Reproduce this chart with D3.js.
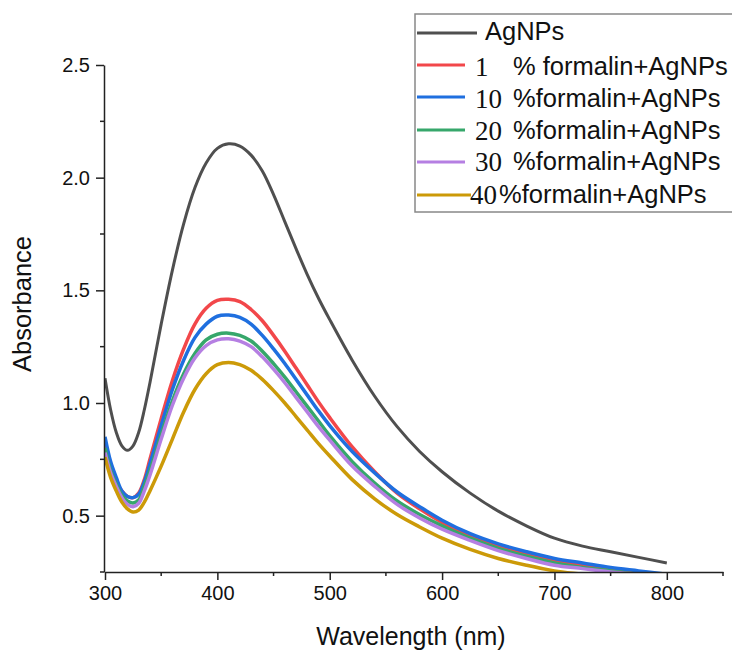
<!DOCTYPE html>
<html>
<head>
<meta charset="utf-8">
<script src="https://cdn.jsdelivr.net/npm/d3@7"></script>
<style>
  body { margin: 0; background: #fff; }
  svg { display: block; }
</style>
</head>
<body>
<svg id="chart" width="732" height="651"></svg>
<script>
// wavelengths (nm) shared by every series
const wavelengths = [300, 305, 310, 315, 320, 325, 330, 335, 340, 350, 360, 370, 380, 390, 400, 410, 420, 430, 440, 450,
  460, 470, 480, 490, 500, 520, 540, 560, 580, 600, 625, 650, 675, 700, 725, 750, 775, 800];

const agnps = [1.11, 0.97, 0.87, 0.81, 0.79, 0.81, 0.87, 0.97, 1.09, 1.35, 1.59, 1.795, 1.955, 2.065, 2.13, 2.15, 2.14, 2.10, 2.03, 1.925,
  1.805, 1.685, 1.57, 1.465, 1.37, 1.19, 1.03, 0.895, 0.785, 0.695, 0.60, 0.52, 0.455, 0.40, 0.365, 0.34, 0.315, 0.29];
const f1 = [0.82, 0.72, 0.65, 0.61, 0.585, 0.58, 0.60, 0.66, 0.75, 0.93, 1.10, 1.24, 1.35, 1.42, 1.455, 1.46, 1.45, 1.415, 1.365, 1.30,
  1.23, 1.155, 1.08, 1.005, 0.935, 0.805, 0.695, 0.60, 0.53, 0.47, 0.41, 0.365, 0.33, 0.30, 0.28, 0.26, 0.245, 0.23];
const f10 = [0.85, 0.74, 0.67, 0.61, 0.585, 0.58, 0.595, 0.65, 0.73, 0.90, 1.06, 1.19, 1.29, 1.35, 1.385, 1.39, 1.38, 1.35, 1.30, 1.24,
  1.175, 1.105, 1.035, 0.965, 0.90, 0.785, 0.69, 0.605, 0.54, 0.48, 0.42, 0.375, 0.34, 0.31, 0.29, 0.27, 0.255, 0.24];
const f20 = [0.80, 0.70, 0.64, 0.59, 0.565, 0.556, 0.57, 0.63, 0.70, 0.86, 1.01, 1.13, 1.22, 1.28, 1.305, 1.31, 1.30, 1.275, 1.23, 1.175,
  1.115, 1.05, 0.985, 0.92, 0.855, 0.74, 0.645, 0.565, 0.505, 0.455, 0.40, 0.355, 0.32, 0.29, 0.27, 0.255, 0.24, 0.23];
const f30 = [0.78, 0.69, 0.63, 0.58, 0.55, 0.54, 0.555, 0.61, 0.68, 0.84, 0.99, 1.11, 1.20, 1.255, 1.28, 1.285, 1.275, 1.25, 1.205, 1.15,
  1.09, 1.025, 0.96, 0.895, 0.835, 0.72, 0.63, 0.55, 0.49, 0.44, 0.39, 0.345, 0.31, 0.28, 0.265, 0.25, 0.24, 0.225];
const f40 = [0.76, 0.67, 0.61, 0.56, 0.53, 0.516, 0.525, 0.56, 0.61, 0.72, 0.84, 0.96, 1.06, 1.13, 1.17, 1.18, 1.17, 1.145, 1.105, 1.055,
  1.00, 0.94, 0.88, 0.82, 0.765, 0.66, 0.575, 0.505, 0.45, 0.40, 0.35, 0.31, 0.28, 0.255, 0.24, 0.225, 0.21, 0.20];

const seriesNum = ["", "1", "10", "20", "30", "40"];
const seriesText = ["AgNPs", "% formalin+AgNPs", "%formalin+AgNPs", "%formalin+AgNPs", "%formalin+AgNPs", "%formalin+AgNPs"];
const seriesValues = [agnps, f1, f10, f20, f30, f40];
const colors = ["#4f4f4f", "#f2474a", "#1f6fdf", "#36a76b", "#b57fe2", "#cc9a08"];

const xTicks = [300, 400, 500, 600, 700, 800];
const yTicks = [0.5, 1.0, 1.5, 2.0, 2.5];

const sans = "'Liberation Sans', Arial, sans-serif";
const serif = "'Liberation Serif', 'Times New Roman', serif";

const svg = d3.select("#chart");
const margin = { left: 104, right: 9, top: 65, bottom: 79 };
const W = 732, H = 651;

const x = d3.scaleLinear().domain([300, 850]).range([margin.left + 1, W - margin.right]);
const y = d3.scaleLinear().domain([0.25, 2.5]).range([H - margin.bottom, margin.top]);

svg.append("clipPath").attr("id", "plot")
  .append("rect")
  .attr("x", x(300)).attr("y", 0)
  .attr("width", x(850) - x(300)).attr("height", y(0.25));

// curves
const line = d3.line()
  .x((d, i) => x(wavelengths[i]))
  .y(d => y(d))
  .curve(d3.curveCatmullRom.alpha(0.5));

svg.append("g").attr("clip-path", "url(#plot)")
  .selectAll("path")
  .data(seriesValues)
  .join("path")
  .attr("d", line)
  .attr("fill", "none")
  .attr("stroke", (d, i) => colors[i])
  .attr("stroke-width", (d, i) => (i === 0 ? 3 : 3.5))
  .attr("stroke-linejoin", "round");

// axes
const xAxis = svg.append("g")
  .attr("transform", `translate(0,${y(0.25)})`)
  .call(d3.axisBottom(x).tickValues(xTicks).tickSize(8).tickSizeOuter(0).tickPadding(6));
xAxis.append("g").selectAll("line")
  .data(d3.range(350, 851, 100))
  .join("line")
  .attr("x1", d => x(d)).attr("x2", d => x(d))
  .attr("y1", 0).attr("y2", 4)
  .attr("stroke", "#222").attr("stroke-width", 1.5);

const yAxis = svg.append("g")
  .attr("transform", `translate(${margin.left},0)`)
  .call(d3.axisLeft(y).tickValues(yTicks).tickFormat(d3.format(".1f")).tickSize(8).tickSizeOuter(0).tickPadding(6));
yAxis.append("g").selectAll("line")
  .data([0.25, 0.75, 1.25, 1.75, 2.25])
  .join("line")
  .attr("x1", -4).attr("x2", 0)
  .attr("y1", d => y(d)).attr("y2", d => y(d))
  .attr("stroke", "#222").attr("stroke-width", 1.5);

[xAxis, yAxis].forEach(g => {
  g.select(".domain").attr("stroke", "#222").attr("stroke-width", 1.5);
  g.selectAll(".tick line").attr("stroke", "#222").attr("stroke-width", 1.5);
  g.selectAll(".tick text")
    .style("font-family", sans)
    .style("font-size", "20px").attr("fill", "#111");
});

// axis titles
svg.append("text")
  .attr("x", (x(300) + x(850)) / 2 - 3).attr("y", 645)
  .attr("text-anchor", "middle")
  .style("font-family", sans).style("font-size", "25px").attr("fill", "#111")
  .text("Wavelength (nm)");

svg.append("text")
  .attr("transform", "translate(31,304) rotate(-90)")
  .attr("text-anchor", "middle")
  .style("font-family", sans).style("font-size", "25.5px").attr("fill", "#111")
  .text("Absorbance");

// legend
const legend = svg.append("g");
legend.append("rect")
  .attr("x", 415).attr("y", 14)
  .attr("width", 330).attr("height", 198)
  .attr("fill", "#fff").attr("stroke", "#888").attr("stroke-width", 1.5);

svg.append("clipPath").attr("id", "cut30")
  .append("rect").attr("x", 400).attr("y", 0).attr("width", 330).attr("height", 172);

const rowLine = [33, 65, 97, 130, 162, 195];
const rowBase = [40, 75, 107, 139, 170, 203];
const lineEnd = [477, 465, 465, 465, 465, 471];
const numX = [0, 475, 475, 475, 475, 470];
const textX = [485, 513, 513, 513, 513, 499];

seriesText.forEach((t, i) => {
  legend.append("line")
    .attr("x1", 417).attr("x2", lineEnd[i])
    .attr("y1", rowLine[i]).attr("y2", rowLine[i])
    .attr("stroke", colors[i]).attr("stroke-width", 3.2);
  if (seriesNum[i]) {
    legend.append("text")
      .attr("x", numX[i]).attr("y", rowBase[i] + 1)
      .style("font-family", serif).style("font-size", "27px").attr("fill", "#111")
      .attr("clip-path", i === 4 ? "url(#cut30)" : null)
      .text(seriesNum[i]);
  }
  legend.append("text")
    .attr("x", textX[i]).attr("y", rowBase[i])
    .style("font-family", sans).style("font-size", "25.5px").attr("fill", "#111")
    .text(t);
});
</script>
</body>
</html>
